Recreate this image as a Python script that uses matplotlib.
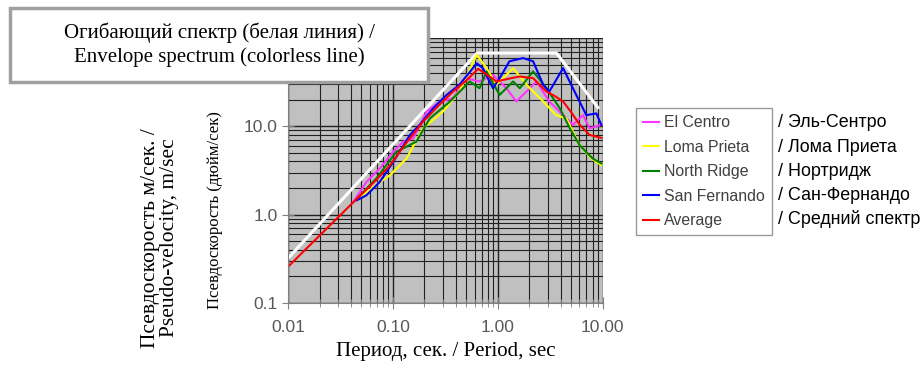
import numpy as np
import matplotlib.pyplot as plt
from matplotlib.patches import Rectangle

# Pseudo-velocity spectra (period, sec / velocity)
avg_T = [0.01, 0.045, 0.07, 0.094, 0.13, 0.194, 0.27, 0.375, 0.5, 0.65, 0.8, 0.97,
         1.25, 1.62, 2.17, 2.91, 3.5, 4.19, 5.0, 6.04, 7.5, 9.7]
avg_V = [0.257, 1.5, 2.5, 3.63, 6.2, 11.3, 17.0, 24.8, 33.0, 44.8, 38.0, 32.2,
         34.5, 36.7, 35.1, 24.8, 22.0, 19.1, 14.5, 10.4, 8.0, 7.4]

elc_T = [0.042, 0.056, 0.075, 0.101, 0.125, 0.156, 0.21, 0.28, 0.375, 0.5, 0.67, 0.9,
         1.21, 1.5, 1.88, 2.34, 3.1, 4.19, 5.2, 6.5, 7.5, 9.7]
elc_V = [1.4, 2.35, 3.33, 5.16, 6.7, 7.3, 14.7, 19.1, 20.8, 35.0, 32.2, 38.0,
         27.0, 19.1, 24.8, 32.2, 19.1, 13.4, 10.4, 13.4, 9.5, 10.4]

lom_T = [0.045, 0.07, 0.094, 0.135, 0.194, 0.3, 0.43, 0.63, 0.78, 0.97, 1.4, 1.88,
         2.71, 3.6, 4.5, 6.04, 7.8, 9.7]
lom_V = [1.45, 2.2, 2.8, 4.33, 9.5, 14.7, 24.8, 64.5, 45.6, 29.5, 45.6, 29.5,
         19.1, 13.4, 12.3, 6.1, 4.33, 3.63]

nr_T = [0.045, 0.07, 0.108, 0.167, 0.225, 0.35, 0.54, 0.67, 0.78, 1.04, 1.4, 1.62,
        2.17, 2.91, 3.9, 4.86, 6.04, 8.0, 9.7]
nr_V = [1.5, 2.6, 5.16, 6.7, 12.3, 19.1, 32.2, 27.0, 41.9, 22.7, 32.2, 27.0,
        41.9, 27.0, 16.0, 9.5, 6.1, 4.33, 3.8]

sf_T = [0.045, 0.056, 0.075, 0.101, 0.145, 0.18, 0.242, 0.325, 0.43, 0.63, 0.72, 0.9,
        1.04, 1.29, 1.74, 2.17, 2.71, 3.1, 4.19, 5.2, 6.98, 8.7, 9.7]
sf_V = [1.45, 1.66, 2.35, 3.97, 7.96, 10.4, 16.0, 22.7, 29.5, 51.7, 45.6, 27.0,
        35.0, 54.5, 59.3, 54.5, 29.5, 24.8, 45.6, 27.0, 13.4, 14.0, 10.4]

env_T = [0.01, 0.635, 3.62, 9.0]
env_V = [0.32, 67.6, 67.6, 16.3]

names = ['El Centro', 'Loma Prieta', 'North Ridge', 'San Fernando', 'Average']
names_ru = ['/ Эль-Сентро', '/ Лома Приета', '/ Нортридж', '/ Сан-Фернандо', '/ Средний спектр']
colors = ['#ff33ff', '#ffff00', '#008000', '#0000ff', '#ff0000']

fig = plt.figure(figsize=(9.23, 3.67), dpi=100)
ax = fig.add_axes([0.312, 0.1744, 0.341, 0.722])
ax.set_facecolor('#c0c0c0')
ax.set_xscale('log')
ax.set_yscale('log')
ax.set_xlim(0.01, 10)
ax.set_ylim(0.1, 100)

ax.grid(True, which='major', color='#202020', lw=1.0)
ax.grid(True, which='minor', color='#202020', lw=0.8)
ax.set_axisbelow(True)

ax.plot(env_T, env_V, color='white', lw=2.2)
series = [(elc_T, elc_V), (lom_T, lom_V), (nr_T, nr_V), (sf_T, sf_V), (avg_T, avg_V)]
for (t, v), c, n in zip(series, colors, names):
    ax.plot(t, v, color=c, lw=1.5, label=n)

for s in ['top', 'right']:
    ax.spines[s].set_visible(False)
for s in ['left', 'bottom']:
    ax.spines[s].set_color('#808080')
ax.tick_params(which='both', direction='inout', color='#808080', labelcolor='#595959',
               labelsize=12.5)
ax.tick_params(which='major', length=8)
ax.tick_params(which='minor', length=6)
ax.tick_params(axis='y', which='minor', length=0)
ax.set_xticks([0.01, 0.1, 1, 10])
ax.set_xticklabels(['0.01', '0.10', '1.00', '10.00'], family='Liberation Sans')
ax.set_yticks([0.1, 1, 10, 100])
# the 100.0 label sits under the title box in the original
ax.set_yticklabels(['0.1', '1.0', '10.0', ''], family='Liberation Sans')
ax.tick_params(axis='x', pad=8)

ax.set_xlabel('Период, сек. / Period, sec', family='Liberation Serif', fontsize=15, labelpad=5)
fig.text(160 / 923, 1 - 238 / 367, 'Псевдоскорость м/сек. /\nPseudo-velocity, m/sec',
         family='Liberation Serif', fontsize=15.5, rotation=90, ha='center', va='center',
         linespacing=1.0)
fig.text(215 / 923, 1 - 210 / 367, 'Псевдоскорость (дюйм/сек)', family='Liberation Serif',
         fontsize=12, rotation=90, ha='center', va='center')

# title box
fig.patches.append(Rectangle((10 / 923, 1 - 82 / 367), 418 / 923, 74 / 367,
                             transform=fig.transFigure, facecolor='white',
                             edgecolor='#a0a0a0', lw=2.5, zorder=5))
fig.text(219 / 923, 1 - 45 / 367, 'Огибающий спектр (белая линия) /\nEnvelope spectrum (colorless line)',
         family='Liberation Serif', fontsize=15, ha='center', va='center', zorder=6,
         linespacing=1.3)

leg = ax.legend(loc='upper left', bbox_to_anchor=(636 / 923, 1 - 108 / 367),
                bbox_transform=fig.transFigure, fancybox=False, edgecolor='#808080',
                prop={'family': 'Liberation Sans', 'size': 11.4}, handlelength=1.0,
                handletextpad=0.3, labelspacing=0.6, borderpad=0.45, borderaxespad=0)
for t in leg.get_texts():
    t.set_color('#404040')
leg.get_frame().set_linewidth(1.0)

for i, r in enumerate(names_ru):
    fig.text(778 / 923, 1 - (123 + 24 * i) / 367, r, family='Liberation Sans',
             fontsize=12.9, va='center')

fig.savefig('out.png', dpi=100)
